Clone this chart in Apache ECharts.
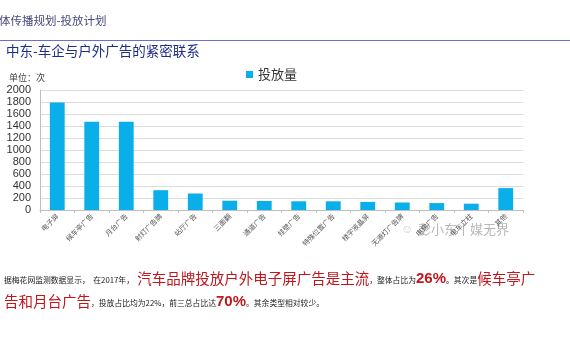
<!DOCTYPE html>
<html>
<head>
<meta charset="utf-8">
<script src="https://cdn.jsdelivr.net/npm/echarts@6/dist/echarts.min.js"></script>
<style>
html,body{margin:0;padding:0;background:#fff;}
#c{width:570px;height:360px;}
</style>
</head>
<body>
<div id="c"></div>
<script>
var categories = ['电子屏','候车亭广告','月台广告','射灯广告牌','站厅广告','三面翻','通道广告','挂壁广告','特殊位置广告','楼宇液晶屏','无源灯广告牌','电梯广告','电车立柱','其他'];
var volumes = [1790, 1470, 1470, 330, 275, 155, 150, 145, 145, 135, 125, 115, 105, 365];
var yTicks = {min: 0, max: 2000, interval: 200};
var seriesName = '投放量';

var chart = echarts.init(document.getElementById('c'), null, {renderer: 'canvas'});
var FONT = '"Noto Sans CJK SC", "Microsoft YaHei", sans-serif';
var option = {
  animation: false,
  backgroundColor: '#ffffff',
  textStyle: {fontFamily: FONT},
  title: [
    {text: '体传播规划-投放计划', left: -1, top: 15, padding: 0, textStyle: {fontSize: 11.5, fontWeight: 'normal', color: '#45497a', fontFamily: FONT}},
    {text: '中东-车企与户外广告的紧密联系', left: 6, top: 44, padding: 0, textStyle: {fontSize: 13.5, fontWeight: 'normal', color: '#1f2d8a', fontFamily: FONT}},
    {text: '单位：次', left: 9, top: 73, padding: 0, textStyle: {fontSize: 9, fontWeight: 'normal', color: '#444', fontFamily: FONT}},
    {
      left: 4, top: 263, padding: 0,
      text: '{s|据梅花网监测数据显示，  在2017年，}{b| 汽车品牌投放户外电子屏广告是主流}{s|，整体占比为}{p|26%}{s|。其次是}{b|候车亭广}\n{b|告和月台广告}{s|，投放占比均为22%，前三总占比达}{p|70%}{s|。其余类型相对较少。}',
      textStyle: {
        fontFamily: FONT, fontWeight: 'normal',
        rich: {
          s: {fontSize: 7.8, color: '#222', fontWeight: 'normal', verticalAlign: 'bottom', lineHeight: 23, padding: [0,0,2,0]},
          b: {fontSize: 14.5, color: '#c0161c', fontWeight: 'normal', verticalAlign: 'bottom', lineHeight: 23},
          p: {fontSize: 15, color: '#c0161c', fontWeight: 'bold', verticalAlign: 'bottom', lineHeight: 23, fontFamily: 'Arial, "Liberation Sans", sans-serif'}
        }
      }
    }
  ],
  graphic: [
    {type: 'line', shape: {x1: 0, y1: 40.5, x2: 570, y2: 40.5}, style: {stroke: '#6b70c0', lineWidth: 1}},
    {type: 'text', left: 418, top: 223, style: {text: '彭小东丨媒无界', fontSize: 13, fill: '#b8b8b8', fontFamily: FONT}},
    {type: 'text', left: 401, top: 224, style: {text: '☺', fontSize: 12, fill: '#cccccc'}}
  ],
  legend: {
    data: [seriesName], left: 241, top: 63,
    icon: 'rect', itemWidth: 7, itemHeight: 7, itemGap: 4,
    textStyle: {fontSize: 13, color: '#333', fontFamily: FONT}
  },
  grid: {left: 40, right: 47, top: 90, bottom: 150},
  xAxis: {
    type: 'category', data: categories,
    axisLine: {lineStyle: {color: '#bfbfbf'}},
    axisTick: {show: true, length: 3, lineStyle: {color: '#bfbfbf'}},
    axisLabel: {interval: 0, rotate: 45, fontSize: 7, color: '#555', margin: 5, fontFamily: FONT}
  },
  yAxis: {
    type: 'value', min: yTicks.min, max: yTicks.max, interval: yTicks.interval,
    axisLine: {show: true, lineStyle: {color: '#bfbfbf'}},
    axisTick: {show: false},
    splitLine: {lineStyle: {color: '#dcdcdc'}},
    axisLabel: {fontSize: 11, color: '#333', margin: 9, formatter: function (v) { return String(v); }, fontFamily: 'Arial, "Liberation Sans", sans-serif'}
  },
  series: [{
    name: seriesName, type: 'bar', data: volumes,
    barWidth: '43%',
    itemStyle: {color: '#0aaee8'}
  }]
};
chart.setOption(option);
</script>
</body>
</html>
